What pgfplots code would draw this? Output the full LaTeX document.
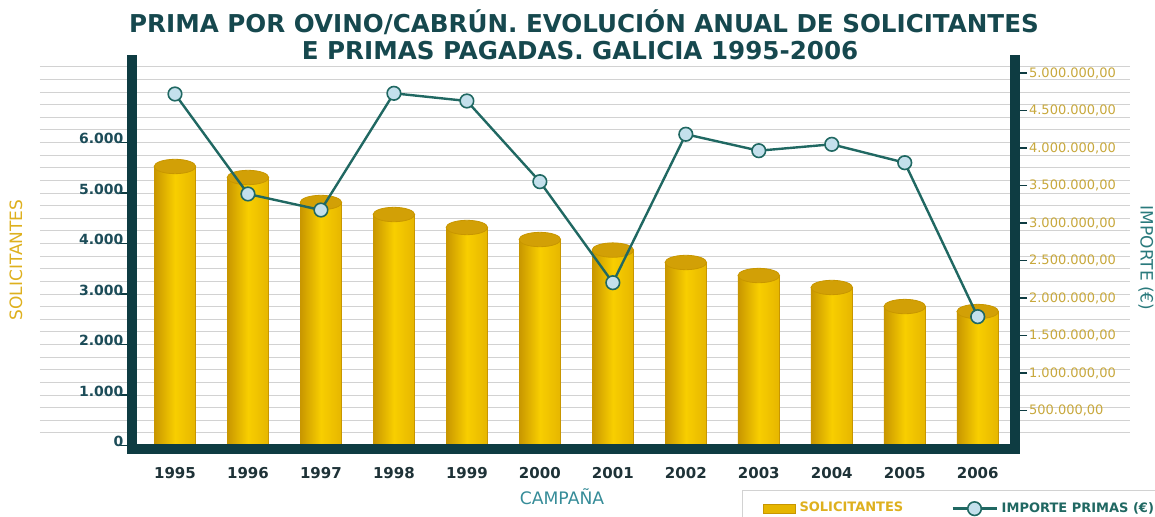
\documentclass[border=0pt]{standalone}
\usepackage{pgfplots}
\pgfplotsset{compat=1.18}
\usepackage{pgfplotstable}
\usepackage{fontspec}
\setmainfont{DejaVu Sans}

\definecolor{wall}{RGB}{14,60,66}
\definecolor{titlec}{RGB}{22,72,78}
\definecolor{linec}{RGB}{32,104,98}
\definecolor{markc}{RGB}{196,224,236}
\definecolor{goldL}{RGB}{248,206,0}
\definecolor{goldM}{RGB}{230,182,0}
\definecolor{goldD}{RGB}{200,150,0}
\definecolor{goldTop}{RGB}{210,160,6}
\definecolor{goldTxt}{RGB}{222,176,30}
\definecolor{rtick}{RGB}{200,168,60}
\definecolor{ltick}{RGB}{28,76,88}
\definecolor{xtickc}{RGB}{30,50,55}
\definecolor{gridc}{RGB}{210,210,210}
\definecolor{labc}{RGB}{42,122,124}
\definecolor{campc}{RGB}{54,140,152}

% top of each cylinder
\pgfdeclareplotmark{cyltop}{%
  \pgfpathellipse{\pgfpointorigin}{\pgfqpoint{10.4pt}{0pt}}{\pgfqpoint{0pt}{3.6pt}}%
  \pgfusepathqfillstroke}

\pgfplotstableread{
x sol imp
0  5525 4720000
1  5307 3387000
2  4812 3173000
3  4574 4729000
4  4317 4627000
5  4079 3551000
6  3870 2204000
7  3624 4183000
8  3366 3964000
9  3129 4049000
10 2752 3804000
11 2653 1751000
}\datatab

\begin{document}
\begin{tikzpicture}
\begin{axis}[
  scale only axis, width=441.25pt, height=194.5pt,
  xmin=-0.582, xmax=11.511, ymin=-69, ymax=7634,
  axis on top,
  axis x line*=bottom, axis y line*=left,
  axis line style={-, line width=5pt, line cap=rect, color=wall},
  xtick={0,...,11},
  xticklabels={1995,1996,1997,1998,1999,2000,2001,2002,2003,2004,2005,2006},
  xtick style={draw=none},
  xticklabel style={font=\fontsize{7.5}{9}\selectfont\bfseries, text=xtickc, yshift=0.5pt},
  ytick={0,1000,2000,3000,4000,5000,6000},
  yticklabels={0,1.000,2.000,3.000,4.000,5.000,6.000},
  ytick style={color=wall, line width=0.6pt},
  major tick length=6pt, tick align=outside,
  yticklabel style={font=\fontsize{7}{8}\selectfont\bfseries, text=ltick, yshift=2pt, xshift=5pt},
  clip=false,
]
\pgfplotsinvokeforeach{250,500,...,7500}{
  \draw[gridc, line width=0.5pt] (axis cs:-1.85,#1) -- (axis cs:13.09,#1);
}
% one plot per bar so that every cylinder gets its own shading
\pgfplotsinvokeforeach{0,...,11}{
  \addplot[ybar, bar width=20.8pt, draw=goldD, line width=0.4pt,
    left color=goldD, right color=goldM, middle color=goldL,
    x filter/.expression={x==#1 ? x : nan}]
    table[x=x, y=sol] {\datatab};
}
\addplot[only marks, mark=cyltop, mark options={fill=goldTop, draw=goldD, line width=0.4pt}]
  table[x=x, y=sol] {\datatab};
\coordinate (O) at (rel axis cs:0,0);
\end{axis}

\begin{axis}[
  scale only axis, width=441.25pt, height=194.5pt,
  xmin=-0.582, xmax=11.511, ymin=-13333, ymax=5173333,
  axis x line=none, axis y line*=right,
  axis line style={-, line width=5pt, line cap=rect, color=wall},
  ytick={500000,1000000,1500000,2000000,2500000,3000000,3500000,4000000,4500000,5000000},
  yticklabels={{500.000,00},{1.000.000,00},{1.500.000,00},{2.000.000,00},{2.500.000,00},
    {3.000.000,00},{3.500.000,00},{4.000.000,00},{4.500.000,00},{5.000.000,00}},
  scaled y ticks=false,
  ytick style={color=wall, line width=0.6pt},
  major tick length=6pt, tick align=outside,
  yticklabel style={font=\fontsize{6.5}{7}\selectfont, text=rtick, xshift=-2.5pt},
  clip=false,
  legend columns=2,
  legend cell align=left,
  legend style={at={(0.691,-0.105)}, anchor=north west, draw=gridc,
    inner xsep=10pt, inner ysep=4pt,
    font=\fontsize{6.5}{7}\selectfont\bfseries,
    /tikz/every even column/.append style={column sep=22pt}},
]
\addlegendimage{legend image code/.code={
  \draw[fill=goldM, draw=goldD] (0pt,-2.2pt) rectangle (16pt,2.2pt);}}
\addlegendentry{\textcolor{goldTxt}{SOLICITANTES}}
\addplot[linec, line width=1.2pt, mark=*, mark size=3.4pt,
  mark options={fill=markc, draw=linec, line width=0.8pt},
  legend image code/.code={
    \draw[linec, line width=1.2pt] (0pt,0pt) -- (22pt,0pt);
    \draw[fill=markc, draw=linec, line width=0.8pt] (11pt,0pt) circle (3.4pt);}]
  table[x=x, y=imp] {\datatab};
\addlegendentry{\textcolor{linec}{IMPORTE PRIMAS (€)}}
\end{axis}

\node[font=\fontsize{12.3}{14}\selectfont\bfseries, text=titlec]
  at ([shift={(225.75pt,213.5pt)}]O) {PRIMA POR OVINO/CABRÚN. EVOLUCIÓN ANUAL DE SOLICITANTES};
\node[font=\fontsize{12.3}{14}\selectfont\bfseries, text=titlec]
  at ([shift={(223.75pt,199pt)}]O) {E PRIMAS PAGADAS. GALICIA 1995-2006};
\node[font=\fontsize{8.5}{10}\selectfont, text=goldTxt, rotate=90]
  at ([shift={(-58.25pt,94.5pt)}]O) {SOLICITANTES};
\node[font=\fontsize{8.5}{10}\selectfont, text=labc, rotate=-90]
  at ([shift={(506.75pt,95.5pt)}]O) {IMPORTE (€)};
\node[font=\fontsize{8.6}{10}\selectfont, text=campc]
  at ([shift={(214.75pt,-24pt)}]O) {CAMPAÑA};

\pgfresetboundingbox
\path[use as bounding box] ([shift={(-66.25pt,-34pt)}]O) rectangle ([shift={(511.25pt,224.5pt)}]O);
\end{tikzpicture}
\end{document}
